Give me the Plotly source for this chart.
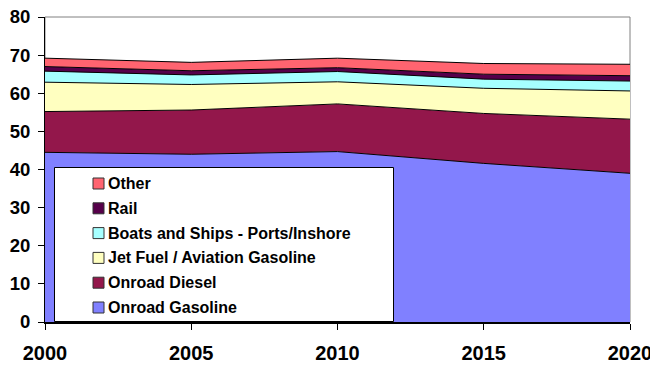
import plotly.graph_objects as go

years = [2000, 2005, 2010, 2015, 2020]
series_names = ["Onroad Gasoline", "Onroad Diesel", "Jet Fuel / Aviation Gasoline",
                "Boats and Ships - Ports/Inshore", "Rail", "Other"]
onroad_gasoline = [44.5, 44.0, 44.7, 41.6, 39.0]
onroad_diesel = [10.7, 11.6, 12.5, 13.1, 14.2]
jet_fuel = [7.7, 6.7, 5.8, 6.6, 7.4]
boats_ships = [2.9, 2.5, 2.7, 2.4, 2.6]
rail = [1.2, 1.1, 1.0, 1.3, 1.4]
other = [2.2, 2.2, 2.5, 2.8, 3.0]
series_values = [onroad_gasoline, onroad_diesel, jet_fuel, boats_ships, rail, other]
colors = ["#8080FF", "#93174B", "#FFFFC0", "#A6FFFF", "#56004A", "#FF6470"]
y_ticks = [0, 10, 20, 30, 40, 50, 60, 70, 80]
x_ticks = [2000, 2005, 2010, 2015, 2020]

# the page body has an 8px default margin, so the figure is drawn offset by 8px
OFF = 8
W, H = 658 - OFF, 369 - OFF
PLOT_L, PLOT_R, PLOT_T, PLOT_B = 45, 630, 17, 322  # screen pixels
ML, MR, MT, MB = PLOT_L - OFF, W - (PLOT_R - OFF), PLOT_T - OFF, H - (PLOT_B - OFF)
PW, PH = PLOT_R - PLOT_L, PLOT_B - PLOT_T

def px_x(px):
    return (px - PLOT_L) / PW

def px_y(py):
    return (PLOT_B - py) / PH

fig = go.Figure()
for name, vals, col in zip(series_names, series_values, colors):
    fig.add_trace(go.Scatter(
        x=years, y=vals, name=name, mode="lines", stackgroup="one",
        line=dict(color="black", width=1), fillcolor=col, showlegend=False,
    ))

font_family = "Liberation Sans, Arial, sans-serif"

# plot-area border (gray top/right)
fig.add_shape(type="rect", xref="paper", yref="paper", x0=0, x1=1, y0=0, y1=1,
              line=dict(color="#808080", width=1), layer="below")

# legend box
fig.add_shape(type="rect", xref="paper", yref="paper",
              x0=px_x(54.5), x1=px_x(393.5), y0=px_y(321.5), y1=px_y(167.5),
              line=dict(color="black", width=1), fillcolor="white", layer="above")

first_center = 183.5
step = 24.8
for i, (name, col) in enumerate(zip(reversed(series_names), reversed(colors))):
    cy = first_center + i * step
    fig.add_shape(type="rect", xref="paper", yref="paper",
                  x0=px_x(93), x1=px_x(104), y0=px_y(cy + 5.5), y1=px_y(cy - 5.5),
                  line=dict(color="#333333", width=1), fillcolor=col, layer="above")
    fig.add_annotation(xref="paper", yref="paper", x=px_x(106), y=px_y(cy),
                       text=name, showarrow=False, xanchor="left", yanchor="middle",
                       font=dict(family=font_family, size=16, color="black", weight="bold"))

fig.update_layout(
    width=W, height=H,
    margin=dict(l=ML, r=MR, t=MT, b=MB, autoexpand=False),
    paper_bgcolor="white", plot_bgcolor="white",
    showlegend=False,
    font=dict(family=font_family, color="black"),
    xaxis=dict(range=[2000, 2020], tickvals=x_ticks, ticktext=[str(t) for t in x_ticks],
               automargin=False, ticklabeloverflow="allow",
               showgrid=False, zeroline=False, showline=True, linecolor="black", linewidth=2,
               ticks="outside", ticklen=6, tickcolor="black", tickwidth=1,
               ticklabelstandoff=6,
               tickfont=dict(family=font_family, size=20, color="black", weight="bold")),
    yaxis=dict(range=[0, 80], tickvals=y_ticks, automargin=False, ticklabeloverflow="allow",
               showgrid=False, zeroline=False, showline=True, linecolor="black", linewidth=1,
               ticks="outside", ticklen=6, tickcolor="black", tickwidth=1,
               ticklabelstandoff=4,
               tickfont=dict(family=font_family, size=18.5, color="black", weight="bold")),
)

fig.write_html("out.html")
